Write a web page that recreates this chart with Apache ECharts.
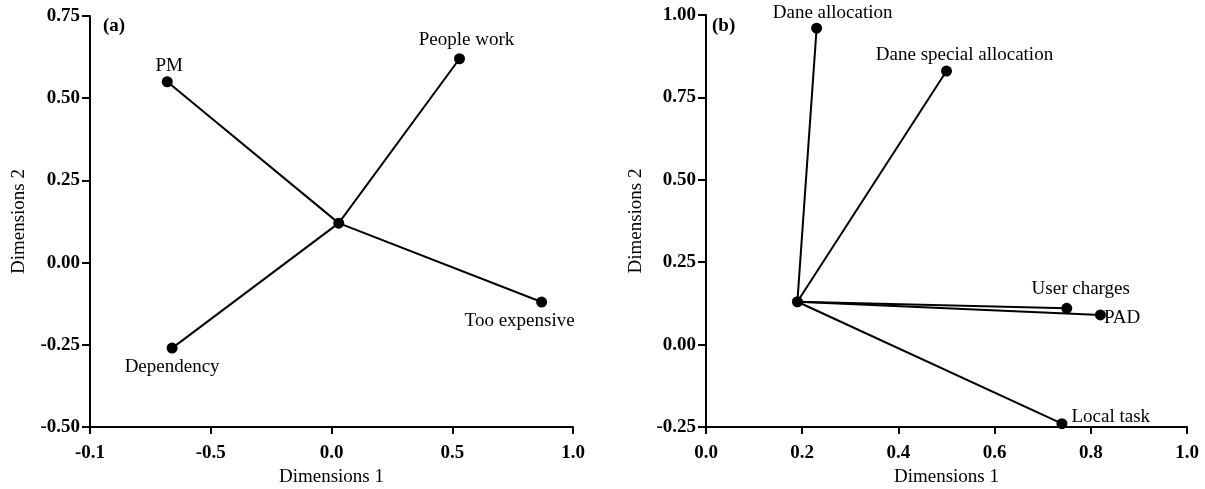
<!DOCTYPE html>
<html>
<head>
<meta charset="utf-8">
<script src="https://cdn.jsdelivr.net/npm/echarts@6/dist/echarts.min.js"></script>
<style>html,body{margin:0;padding:0;background:#fff}#c{width:1205px;height:489px}</style>
</head>
<body>
<div id="c"></div>
<script>
// Panel (a)
const labelsA = ['PM', 'People work', 'Too expensive', 'Dependency'];
const dim1A = [-0.68, 0.53, 0.87, -0.66];
const dim2A = [0.55, 0.62, -0.12, -0.26];
const centerA = [0.03, 0.12];
const xTicksA = ['-0.1', '-0.5', '0.0', '0.5', '1.0'];

// Panel (b)
const labelsB = ['Dane allocation', 'Dane special allocation', 'User charges', 'PAD', 'Local task'];
const dim1B = [0.23, 0.50, 0.75, 0.82, 0.74];
const dim2B = [0.96, 0.83, 0.11, 0.09, -0.24];
const centerB = [0.19, 0.13];

const FONT = '"Liberation Serif", "Times New Roman", serif';

const labelPosA = [
  {position: 'top', offset: [2, 3]},
  {position: 'top', offset: [7, 0]},
  {position: 'bottom', offset: [-22, 0]},
  {position: 'bottom', offset: [0, 0]}
];
const labelPosB = [
  {position: 'top', offset: [16, 4]},
  {position: 'top', offset: [18, 3]},
  {position: 'top', offset: [14, 0]},
  {position: 'right', offset: [-6, 3]},
  {position: 'right', offset: [0, -7]}
];

function axisCommon(isX) {
  return {
    axisLine: {show: true, onZero: false, lineStyle: {color: '#000', width: 2}},
    axisTick: {show: true, length: isX ? 7 : 8, lineStyle: {color: '#000', width: 2}},
    splitLine: {show: false},
    axisLabel: {color: '#000', fontFamily: FONT, fontSize: 19, fontWeight: 'bold', margin: isX ? 17 : 10},
    nameTextStyle: {color: '#000', fontFamily: FONT, fontSize: 19},
    nameLocation: 'middle'
  };
}

function buildSeries(labels, d1, d2, center, pos, axisIdx) {
  const s = [];
  for (let i = 0; i < labels.length; i++) {
    s.push({
      type: 'line', xAxisIndex: axisIdx, yAxisIndex: axisIdx,
      data: [center, [d1[i], d2[i]]],
      symbol: 'none', silent: true, animation: false,
      lineStyle: {color: '#000', width: 2}
    });
  }
  const pts = labels.map((n, i) => ({
    value: [d1[i], d2[i]], name: n,
    label: {show: true, formatter: n, position: pos[i].position, offset: pos[i].offset,
      color: '#000', fontFamily: FONT, fontSize: 19, distance: 4}
  }));
  pts.push({value: center, label: {show: false}});
  s.push({
    type: 'scatter', xAxisIndex: axisIdx, yAxisIndex: axisIdx,
    data: pts, symbol: 'circle', symbolSize: 11, animation: false,
    itemStyle: {color: '#000', opacity: 1}
  });
  return s;
}

const chart = echarts.init(document.getElementById('c'), null, {renderer: 'canvas'});
chart.setOption({
  backgroundColor: '#fff',
  animation: false,
  title: [
    {text: '(a)', left: 98, top: 12, textStyle: {fontFamily: FONT, fontSize: 19, fontWeight: 'bold', color: '#000'}},
    {text: '(b)', left: 707, top: 12, textStyle: {fontFamily: FONT, fontSize: 19, fontWeight: 'bold', color: '#000'}}
  ],
  grid: [
    {left: 90, right: 632, top: 16, bottom: 62, containLabel: false, outerBoundsMode: 'none'},
    {left: 706, right: 18, top: 15, bottom: 62, containLabel: false, outerBoundsMode: 'none'}
  ],
  xAxis: [
    Object.assign(axisCommon(true), {
      type: 'value', gridIndex: 0, min: -1.0, max: 1.0, interval: 0.5,
      name: 'Dimensions 1', nameGap: 40,
      axisLabel: Object.assign(axisCommon(true).axisLabel, {
        formatter: v => xTicksA[Math.round((v + 1.0) / 0.5)]
      })
    }),
    Object.assign(axisCommon(true), {
      type: 'value', gridIndex: 1, min: 0, max: 1.0, interval: 0.2,
      name: 'Dimensions 1', nameGap: 40,
      axisLabel: Object.assign(axisCommon(true).axisLabel, {formatter: v => v.toFixed(1)})
    })
  ],
  yAxis: [
    Object.assign(axisCommon(false), {
      type: 'value', gridIndex: 0, min: -0.5, max: 0.75, interval: 0.25,
      name: 'Dimensions 2', nameGap: 61,
      axisLabel: Object.assign(axisCommon(false).axisLabel, {formatter: v => v.toFixed(2)})
    }),
    Object.assign(axisCommon(false), {
      type: 'value', gridIndex: 1, min: -0.25, max: 1.0, interval: 0.25,
      name: 'Dimensions 2', nameGap: 60,
      axisLabel: Object.assign(axisCommon(false).axisLabel, {formatter: v => v.toFixed(2)})
    })
  ],
  series: buildSeries(labelsA, dim1A, dim2A, centerA, labelPosA, 0)
    .concat(buildSeries(labelsB, dim1B, dim2B, centerB, labelPosB, 1))
});
</script>
</body>
</html>
